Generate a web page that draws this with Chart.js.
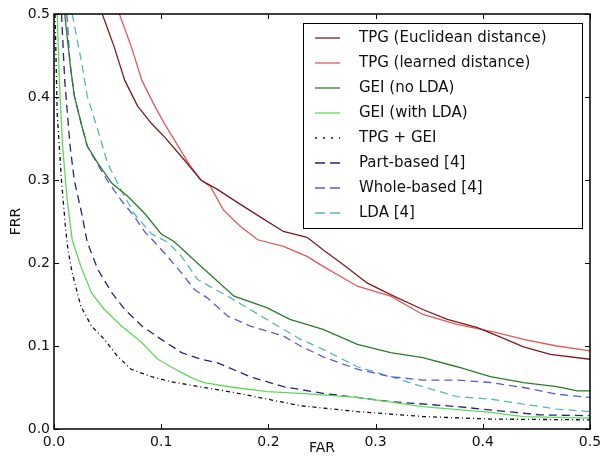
<!DOCTYPE html>
<html>
<head>
<meta charset="utf-8">
<script src="https://cdn.jsdelivr.net/npm/chart.js@4/dist/chart.umd.min.js"></script>
<style>
  body { margin: 0; background: #fff; }
  #wrap { width: 600px; height: 463px; }
</style>
</head>
<body>
<div id="wrap"><canvas id="chart" width="600" height="463"></canvas></div>
<script>
// FAR / FRR pairs
const tpgEuclidean = [[0.045,0.5],[0.056,0.461],[0.066,0.420],[0.078,0.389],[0.091,0.368],[0.103,0.352],[0.121,0.325],[0.137,0.300],[0.152,0.289],[0.171,0.273],[0.193,0.255],[0.214,0.238],[0.236,0.231],[0.251,0.216],[0.270,0.198],[0.292,0.176],[0.314,0.162],[0.344,0.144],[0.367,0.132],[0.395,0.122],[0.416,0.111],[0.438,0.099],[0.463,0.090],[0.5,0.084]];
const tpgLearned = [[0.061,0.5],[0.072,0.461],[0.082,0.420],[0.094,0.389],[0.103,0.368],[0.127,0.317],[0.137,0.300],[0.146,0.292],[0.158,0.264],[0.174,0.244],[0.190,0.228],[0.214,0.220],[0.236,0.208],[0.251,0.196],[0.283,0.172],[0.314,0.160],[0.344,0.138],[0.376,0.126],[0.413,0.116],[0.438,0.108],[0.469,0.100],[0.5,0.094]];
const geiNoLda = [[0.010,0.5],[0.015,0.440],[0.019,0.401],[0.026,0.365],[0.031,0.341],[0.041,0.320],[0.054,0.296],[0.069,0.280],[0.085,0.259],[0.100,0.235],[0.112,0.226],[0.137,0.196],[0.168,0.160],[0.199,0.146],[0.220,0.132],[0.251,0.120],[0.283,0.102],[0.314,0.092],[0.344,0.086],[0.376,0.075],[0.407,0.063],[0.438,0.056],[0.469,0.051],[0.488,0.046],[0.5,0.046]];
const geiWithLda = [[0.003,0.5],[0.005,0.420],[0.008,0.341],[0.012,0.280],[0.017,0.228],[0.025,0.196],[0.035,0.164],[0.047,0.144],[0.063,0.124],[0.082,0.104],[0.097,0.084],[0.109,0.075],[0.119,0.068],[0.131,0.060],[0.140,0.056],[0.168,0.050],[0.199,0.045],[0.230,0.043],[0.283,0.038],[0.344,0.027],[0.407,0.020],[0.438,0.015],[0.5,0.013]];
const tpgPlusGei = [[0.001,0.5],[0.003,0.380],[0.007,0.299],[0.011,0.239],[0.013,0.216],[0.017,0.188],[0.025,0.148],[0.035,0.124],[0.047,0.108],[0.059,0.088],[0.072,0.072],[0.091,0.063],[0.109,0.057],[0.140,0.050],[0.168,0.044],[0.199,0.036],[0.230,0.028],[0.283,0.021],[0.344,0.015],[0.407,0.012],[0.5,0.011]];
const partBased = [[0.007,0.5],[0.010,0.420],[0.015,0.341],[0.019,0.299],[0.026,0.259],[0.031,0.225],[0.041,0.192],[0.054,0.164],[0.066,0.144],[0.082,0.124],[0.100,0.108],[0.119,0.092],[0.137,0.084],[0.152,0.080],[0.183,0.063],[0.214,0.051],[0.251,0.043],[0.314,0.033],[0.376,0.027],[0.422,0.021],[0.453,0.017],[0.5,0.016]];
const wholeBased = [[0.012,0.5],[0.015,0.440],[0.019,0.401],[0.026,0.365],[0.031,0.341],[0.041,0.318],[0.050,0.299],[0.063,0.275],[0.075,0.256],[0.085,0.237],[0.094,0.225],[0.103,0.212],[0.119,0.188],[0.131,0.168],[0.143,0.158],[0.162,0.136],[0.183,0.124],[0.214,0.112],[0.230,0.100],[0.251,0.087],[0.283,0.072],[0.314,0.063],[0.344,0.059],[0.376,0.059],[0.407,0.056],[0.438,0.050],[0.469,0.042],[0.5,0.038]];
const ldaRef = [[0.017,0.5],[0.026,0.440],[0.031,0.401],[0.041,0.360],[0.050,0.320],[0.063,0.287],[0.075,0.259],[0.091,0.235],[0.106,0.225],[0.119,0.208],[0.134,0.180],[0.162,0.160],[0.183,0.144],[0.214,0.120],[0.230,0.108],[0.251,0.096],[0.283,0.075],[0.314,0.063],[0.344,0.051],[0.376,0.039],[0.407,0.036],[0.438,0.030],[0.469,0.024],[0.5,0.021]];

const seriesLabels = ["TPG (Euclidean distance)", "TPG (learned distance)", "GEI (no LDA)", "GEI (with LDA)", "TPG + GEI", "Part-based [4]", "Whole-based [4]", "LDA [4]"];
const seriesData = [tpgEuclidean, tpgLearned, geiNoLda, geiWithLda, tpgPlusGei, partBased, wholeBased, ldaRef];
const seriesColors = ["#7b1c22", "#e05a5a", "#2a7d2a", "#62d85a", "#111111", "#24247a", "#5a5ad6", "#55b8b8"];
const seriesDash = [[], [], [], [], [4, 3, 1, 3], [8, 5], [8, 5], [8, 5]];
const tickValues = [0, 0.1, 0.2, 0.3, 0.4, 0.5];

const FONT = "'DejaVu Sans', sans-serif";

const datasets = seriesData.map((pts, i) => ({
    label: seriesLabels[i],
    data: pts.map(p => ({ x: p[0], y: p[1] })),
    borderColor: seriesColors[i],
    borderDash: seriesDash[i],
    borderWidth: 1.3,
    pointRadius: 0,
    fill: false,
    tension: 0
}));

// matplotlib-like frame with inward ticks on all four sides
const framePlugin = {
    id: "frame",
    afterDatasetsDraw(chart) {
        const { ctx, chartArea: a, scales } = chart;
        ctx.save();
        ctx.strokeStyle = "#000";
        ctx.lineWidth = 1;
        const len = 5;
        ctx.beginPath();
        tickValues.forEach(v => {
            const x = Math.round(scales.x.getPixelForValue(v)) + 0.5;
            ctx.moveTo(x, a.bottom); ctx.lineTo(x, a.bottom - len);
            ctx.moveTo(x, a.top); ctx.lineTo(x, a.top + len);
            const y = Math.round(scales.y.getPixelForValue(v)) + 0.5;
            ctx.moveTo(a.left, y); ctx.lineTo(a.left + len, y);
            ctx.moveTo(a.right, y); ctx.lineTo(a.right - len, y);
        });
        ctx.stroke();
        ctx.lineWidth = 1.5;
        ctx.strokeRect(a.left, a.top, a.right - a.left, a.bottom - a.top);
        ctx.restore();
    }
};

// boxed legend in the upper right corner of the axes
const legendPlugin = {
    id: "boxLegend",
    afterDraw(chart) {
        const { ctx, chartArea: a } = chart;
        const w = 279, rowH = 25;
        const n = chart.data.datasets.length;
        const h = n * rowH + 5;
        const x0 = a.right - w - 8, y0 = a.top + 9;
        ctx.save();
        ctx.fillStyle = "#fff";
        ctx.fillRect(x0, y0, w, h);
        ctx.strokeStyle = "#000";
        ctx.lineWidth = 1;
        ctx.strokeRect(x0 + 0.5, y0 + 0.5, w, h);
        ctx.font = "15px " + FONT;
        ctx.textBaseline = "middle";
        chart.data.datasets.forEach((ds, i) => {
            const y = y0 + 15 + i * rowH;
            ctx.strokeStyle = ds.borderColor;
            ctx.lineWidth = ds.borderWidth;
            if (ds.borderDash.length === 4) ctx.setLineDash([2, 6]);
            else if (ds.borderDash.length) ctx.setLineDash([10, 5]);
            else ctx.setLineDash([]);
            ctx.beginPath();
            ctx.moveTo(x0 + 12, y);
            ctx.lineTo(x0 + 37, y);
            ctx.stroke();
            ctx.setLineDash([]);
            ctx.fillStyle = "#111";
            ctx.fillText(ds.label, x0 + 56, y);
        });
        ctx.restore();
    }
};

new Chart(document.getElementById("chart"), {
    type: "line",
    data: { datasets },
    plugins: [framePlugin, legendPlugin],
    options: {
        responsive: false,
        animation: false,
        layout: { padding: { left: 0, right: 10, top: 14, bottom: 0 } },
        plugins: { legend: { display: false }, tooltip: { enabled: false } },
        scales: {
            x: {
                type: "linear",
                min: 0, max: 0.5,
                afterBuildTicks: s => { s.ticks = tickValues.map(v => ({ value: v })); },
                afterFit: s => { s.height = 34; s.paddingLeft = 0; s.paddingRight = 0; },
                grid: { display: false, drawTicks: false },
                border: { display: false },
                ticks: { padding: 5, color: "#111", font: { family: FONT, size: 14 }, callback: v => v.toFixed(1), maxRotation: 0 },
                title: { display: true, text: "FAR", color: "#111", font: { family: FONT, size: 14 }, padding: { top: 0, bottom: 6 } }
            },
            y: {
                min: 0, max: 0.5,
                afterBuildTicks: s => { s.ticks = tickValues.map(v => ({ value: v })); },
                afterFit: s => { s.width = 54; s.paddingTop = 0; s.paddingBottom = 0; },
                grid: { display: false, drawTicks: false },
                border: { display: false },
                ticks: { padding: 4, color: "#111", font: { family: FONT, size: 14 }, callback: v => v.toFixed(1) },
                title: { display: true, text: "FRR", color: "#111", font: { family: FONT, size: 14 }, padding: { top: 8, bottom: 0 } }
            }
        }
    }
});
</script>
</body>
</html>
